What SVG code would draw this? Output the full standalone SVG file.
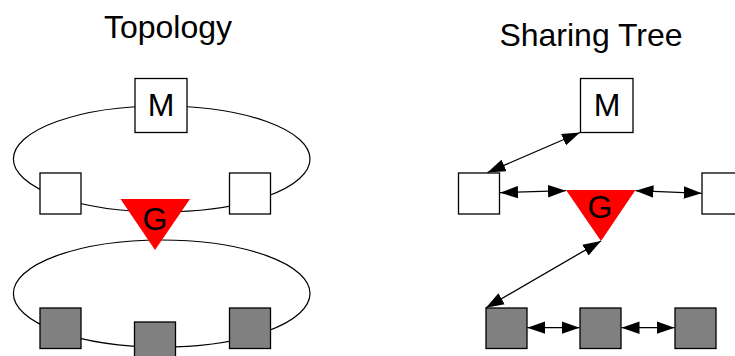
<svg xmlns="http://www.w3.org/2000/svg" width="735" height="356" viewBox="0 0 735 356">
<defs>
<style>
.title{font-family:"Liberation Sans",Arial,sans-serif;font-size:32px;fill:#000;text-anchor:middle}
.lbl{font-family:"Liberation Sans",Arial,sans-serif;font-size:32px;fill:#000;text-anchor:middle}
.box{fill:#fff;stroke:#000;stroke-width:1.3}
.gbox{fill:#808080;stroke:#000;stroke-width:1.3}
.ring{fill:none;stroke:#000;stroke-width:1.2}
.tri{fill:#ff0000;stroke:none}
.link{fill:none;stroke:#000;stroke-width:1.3;marker-start:url(#ah);marker-end:url(#ah)}
</style>
<marker id="ah" markerUnits="userSpaceOnUse" markerWidth="19" markerHeight="13" refX="18" refY="6.25" orient="auto-start-reverse" viewBox="0 0 19 12.5">
<path d="M0,0 L18,6.25 L0,12.5 z" fill="#000"/>
</marker>
</defs>
<rect width="735" height="356" fill="#fff"/>
<text class="title" x="168" y="38">Topology</text>
<text class="title" x="591" y="46">Sharing Tree</text>

<g id="rings">
<ellipse class="ring" cx="161.7" cy="159" rx="148.3" ry="53"/>
<ellipse class="ring" cx="161.7" cy="293.5" rx="148.3" ry="53.5"/>
</g>

<g id="topo-M"><rect class="box" x="135" y="78.5" width="52" height="54"/><text class="lbl" x="161" y="116">M</text></g>
<g id="topo-A"><rect class="box" x="40" y="173" width="41" height="41"/></g>
<g id="topo-B"><rect class="box" x="229.5" y="173" width="41" height="41"/></g>
<g id="topo-C"><rect class="gbox" x="40" y="308" width="41" height="40.5"/></g>
<g id="topo-D"><rect class="gbox" x="134.5" y="322" width="41" height="41"/></g>
<g id="topo-E"><rect class="gbox" x="229.5" y="308" width="41" height="40.5"/></g>
<g id="topo-G"><polygon class="tri" points="120.5,199 190,199 155,250"/><text class="lbl" x="155" y="230">G</text></g>

<g id="tree-M"><rect class="box" x="580.5" y="78.5" width="52.5" height="54"/><text class="lbl" x="607" y="116">M</text></g>
<g id="tree-A"><rect class="box" x="458.5" y="173" width="41" height="41"/></g>
<g id="tree-B"><rect class="box" x="702" y="173" width="41" height="41"/></g>
<g id="tree-G"><polygon class="tri" points="566,190 635.5,190 601,241"/><text class="lbl" x="600" y="218">G</text></g>
<g id="tree-C"><rect class="gbox" x="486" y="308" width="41" height="40.5"/></g>
<g id="tree-D"><rect class="gbox" x="580" y="308" width="41" height="40.5"/></g>
<g id="tree-E"><rect class="gbox" x="675" y="308" width="41" height="40.5"/></g>

<g id="connectors">
<line class="link" x1="487.5" y1="172.5" x2="580" y2="132.5"/>
<line class="link" x1="500" y1="192.7" x2="566" y2="190.7"/>
<line class="link" x1="635.5" y1="190.7" x2="701.7" y2="193.3"/>
<line class="link" x1="601" y1="241" x2="486" y2="307.8"/>
<line class="link" x1="527.3" y1="327.7" x2="579.5" y2="327.7"/>
<line class="link" x1="621.5" y1="327.7" x2="674.5" y2="327.7"/>
</g>
</svg>
